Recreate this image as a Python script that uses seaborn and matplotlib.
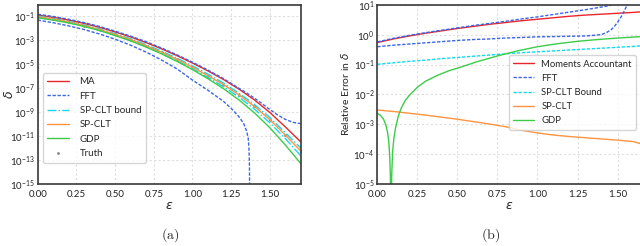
import numpy as np
import matplotlib
matplotlib.use("Agg")
import matplotlib.pyplot as plt
import seaborn as sns
from matplotlib.ticker import NullLocator

# ---- panel (a): log10(delta) vs epsilon ----
eps_a = [0.0, 0.1, 0.2, 0.3, 0.4, 0.5, 0.6, 0.7, 0.8, 0.9, 1.0, 1.1, 1.2, 1.3, 1.4, 1.5, 1.6, 1.7]
ma_a = [-0.94, -1.13, -1.36, -1.64, -1.96, -2.35, -2.76, -3.23, -3.75, -4.32, -4.93, -5.59, -6.30, -7.10, -8.00, -9.05, -10.25, -11.50]
spclt_a = [-1.08, -1.28, -1.52, -1.81, -2.15, -2.55, -2.98, -3.48, -4.03, -4.63, -5.28, -5.98, -6.73, -7.58, -8.54, -9.65, -10.93, -12.25]
bound_hi_a = [-1.03, -1.23, -1.47, -1.76, -2.09, -2.49, -2.91, -3.40, -3.94, -4.53, -5.17, -5.86, -6.60, -7.44, -8.38, -9.47, -10.73, -12.00]
bound_lo_a = [-1.13, -1.33, -1.57, -1.87, -2.22, -2.62, -3.06, -3.57, -4.13, -4.75, -5.42, -6.13, -6.90, -7.77, -8.76, -9.91, -11.22, -12.65]
gdp_a = [-1.17, -1.36, -1.60, -1.89, -2.23, -2.65, -3.09, -3.60, -4.17, -4.80, -5.48, -6.24, -7.06, -8.00, -9.07, -10.32, -11.75, -13.30]
truth_a = [-1.08, -1.28, -1.52, -1.81, -2.15, -2.55, -2.98, -3.48, -4.03, -4.63, -5.28, -5.98, -6.73, -7.58, -8.54, -9.65, -10.93, -12.25]

eps_fft_hi_a = [0.0, 0.1, 0.2, 0.3, 0.4, 0.5, 0.6, 0.7, 0.8, 0.9, 1.0, 1.1, 1.2, 1.3, 1.35, 1.4, 1.45, 1.5, 1.55, 1.6, 1.65, 1.7]
fft_hi_a = [-0.87, -1.06, -1.29, -1.57, -1.89, -2.28, -2.69, -3.16, -3.68, -4.25, -4.86, -5.52, -6.23, -7.03, -7.42, -7.85, -8.32, -8.80, -9.25, -9.62, -9.87, -9.98]
eps_fft_lo_a = [0.0, 0.1, 0.2, 0.3, 0.4, 0.5, 0.6, 0.7, 0.8, 0.9, 1.0, 1.1, 1.2, 1.25, 1.3, 1.33, 1.35, 1.36, 1.365, 1.368, 1.37]
fft_lo_a = [-1.36, -1.58, -1.84, -2.15, -2.52, -2.95, -3.45, -4.02, -4.68, -5.42, -6.35, -7.20, -8.12, -8.70, -9.40, -9.95, -10.60, -11.20, -12.00, -13.30, -16.50]

# ---- panel (b): log10(relative error in delta) ----
eps_b = [0.0, 0.1, 0.2, 0.3, 0.4, 0.5, 0.6, 0.7, 0.8, 0.9, 1.0, 1.1, 1.2, 1.3, 1.4, 1.5, 1.6, 1.65]
ma_b = [-0.26, -0.14, -0.04, 0.05, 0.13, 0.21, 0.28, 0.35, 0.41, 0.47, 0.52, 0.57, 0.62, 0.66, 0.69, 0.72, 0.75, 0.77]
bound_b = [-0.99, -0.94, -0.89, -0.85, -0.80, -0.76, -0.72, -0.68, -0.64, -0.60, -0.57, -0.54, -0.51, -0.48, -0.45, -0.42, -0.39, -0.37]
spclt_b = [-2.52, -2.57, -2.63, -2.69, -2.76, -2.83, -2.91, -2.99, -3.08, -3.20, -3.29, -3.36, -3.41, -3.45, -3.49, -3.53, -3.58, -3.66]

eps_fft_hi_b = [0.0, 0.1, 0.2, 0.3, 0.4, 0.5, 0.6, 0.7, 0.8, 0.9, 1.0, 1.1, 1.2, 1.3, 1.4, 1.45, 1.5]
fft_hi_b = [-0.24, -0.12, -0.02, 0.07, 0.15, 0.23, 0.31, 0.38, 0.45, 0.53, 0.60, 0.68, 0.76, 0.84, 0.93, 0.98, 1.08]
eps_fft_lo_b = [0.0, 0.1, 0.2, 0.3, 0.4, 0.5, 0.6, 0.7, 0.8, 0.9, 1.0, 1.1, 1.2, 1.3, 1.35, 1.4, 1.43, 1.46, 1.48, 1.5, 1.52, 1.54, 1.56, 1.58]
fft_lo_b = [-0.40, -0.35, -0.31, -0.27, -0.23, -0.19, -0.16, -0.14, -0.11, -0.09, -0.07, -0.06, -0.05, -0.04, -0.02, 0.01, 0.07, 0.17, 0.28, 0.42, 0.58, 0.78, 1.00, 1.20]
eps_gdp_b = [0.0, 0.02, 0.04, 0.055, 0.065, 0.072, 0.078, 0.082, 0.086, 0.09, 0.096, 0.104, 0.115, 0.13, 0.15, 0.175, 0.2, 0.25, 0.3, 0.375, 0.45, 0.5, 0.625, 0.75, 0.875, 1.0, 1.125, 1.25, 1.375, 1.5, 1.65]
gdp_b = [-2.63, -2.70, -2.84, -3.05, -3.3, -3.6, -4.1, -4.8, -7.0, -4.7, -3.9, -3.45, -3.1, -2.75, -2.45, -2.2, -2.03, -1.76, -1.56, -1.36, -1.2, -1.12, -0.9, -0.71, -0.54, -0.40, -0.30, -0.22, -0.16, -0.11, -0.06]

red = "#e8262b"
blue = "#3a66e8"
cyan = "#14d8f0"
orange = "#ff9440"
green = "#3ccc48"
dash = (2.4, 1.2)

sns.set_style("whitegrid", {"grid.color": "#dedede", "grid.linestyle": (0, (2, 2)),
                            "axes.edgecolor": "#3a3a3a"})
plt.rcParams["font.family"] = ["Lato", "DejaVu Sans"]
plt.rcParams["legend.fontsize"] = 7


def line(ax, x, y, **kw):
    sns.lineplot(x=x, y=10 ** np.array(y), ax=ax, lw=1.0, sort=False, **kw)


fig = plt.figure(figsize=(6.4, 2.46), dpi=100)
ax1 = fig.add_axes([0.059, 0.252, 0.411, 0.728])
ax2 = fig.add_axes([0.5895, 0.252, 0.413, 0.728])

# (a)
ax1.plot(eps_a, 10 ** np.array(truth_a), ".", color="#888888", ms=2, label="Truth", zorder=1)
line(ax1, eps_a, ma_a, color=red, label="MA")
line(ax1, eps_fft_hi_a, fft_hi_a, color=blue, dashes=dash, label="FFT")
line(ax1, eps_fft_lo_a, fft_lo_a, color=blue, dashes=dash)
line(ax1, eps_a, bound_hi_a, color=cyan, linestyle="-.", label="SP-CLT bound")
line(ax1, eps_a, bound_lo_a, color=cyan, linestyle="-.")
line(ax1, eps_a, spclt_a, color=orange, label="SP-CLT")
line(ax1, eps_a, gdp_a, color=green, label="GDP")

ax1.set_yscale("log")
ax1.set_xlim(0, 1.7)
ax1.set_ylim(1e-15, 0.8)
ax1.set_yticks([10.0 ** k for k in range(-15, 0, 2)])
ax1.set_xticks([0, 0.25, 0.5, 0.75, 1.0, 1.25, 1.5])
ax1.set_xticklabels(["0.00", "0.25", "0.50", "0.75", "1.00", "1.25", "1.50"])
ax1.set_xlabel(r"$\epsilon$", fontsize=9, labelpad=0)
ax1.set_ylabel(r"$\delta$", fontsize=9)
ax1.yaxis.set_label_coords(-0.088, 0.5)
h, l = ax1.get_legend_handles_labels()
order = [l.index(n) for n in ["MA", "FFT", "SP-CLT bound", "SP-CLT", "GDP", "Truth"]]
ax1.legend([h[i] for i in order], [l[i] for i in order], loc="lower left",
           bbox_to_anchor=(0.0, 0.09), labelspacing=0.55, handlelength=2.2,
           borderpad=0.5, handletextpad=1.1, markerscale=1.0)

# (b)
line(ax2, eps_b, ma_b, color=red, label="Moments Accountant")
line(ax2, eps_fft_hi_b, fft_hi_b, color=blue, dashes=dash, label="FFT")
line(ax2, eps_fft_lo_b, fft_lo_b, color=blue, dashes=dash)
line(ax2, eps_b, bound_b, color=cyan, dashes=dash, label="SP-CLT Bound")
line(ax2, eps_b, spclt_b, color=orange, label="SP-CLT")
line(ax2, eps_gdp_b, gdp_b, color=green, label="GDP")

ax2.set_yscale("log")
ax2.set_xlim(0, 1.65)
ax2.set_ylim(1e-5, 10)
ax2.set_yticks([10.0 ** k for k in range(-5, 2)])
ax2.set_xticks([0, 0.25, 0.5, 0.75, 1.0, 1.25, 1.5])
ax2.set_xticklabels(["0.00", "0.25", "0.50", "0.75", "1.00", "1.25", "1.50"])
ax2.set_xlabel(r"$\epsilon$", fontsize=9, labelpad=0)
ax2.set_ylabel(r"Relative Error in $\delta$", fontsize=7.5)
ax2.yaxis.set_label_coords(-0.1, 0.5)
ax2.legend(loc="upper left", bbox_to_anchor=(0.48, 0.745), labelspacing=0.55,
           handlelength=2.2, borderpad=0.45, handletextpad=0.8, fontsize=6.8)

for ax in (ax1, ax2):
    ax.yaxis.set_minor_locator(NullLocator())
    ax.tick_params(labelsize=7, pad=2, length=0, colors="#222222")
    ax.tick_params(axis="x", pad=4)
    for s in ax.spines.values():
        s.set_linewidth(1.2)
    ax.get_legend().get_frame().set_edgecolor("#cccccc")

fig.text(0.266, 0.045, r"$\mathrm{(a)}$", math_fontfamily="cm", fontsize=10, ha="center", va="center")
fig.text(0.766, 0.045, r"$\mathrm{(b)}$", math_fontfamily="cm", fontsize=10, ha="center", va="center")

fig.savefig("out.png", dpi=100)
